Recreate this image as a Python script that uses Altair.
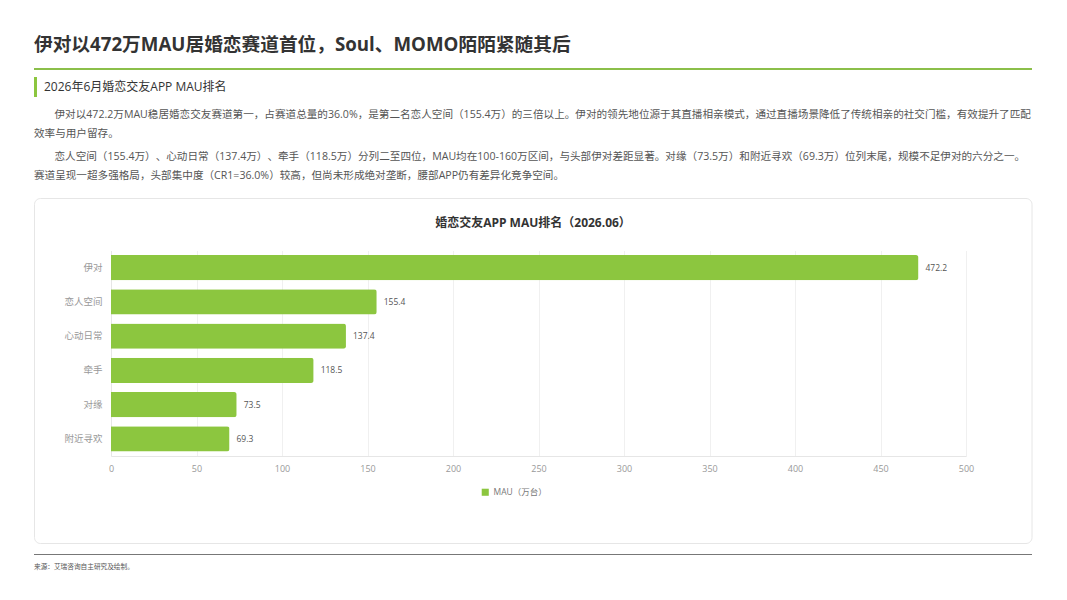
import altair as alt
import pandas as pd

apps = ["伊对", "恋人空间", "心动日常", "牵手", "对缘", "附近寻欢"]
mau = [472.2, 155.4, 137.4, 118.5, 73.5, 69.3]
series_name = "MAU（万台）"
x_ticks = [0, 50, 100, 150, 200, 250, 300, 350, 400, 450, 500]

headline = "伊对以472万MAU居婚恋赛道首位，Soul、MOMO陌陌紧随其后"
subhead = "2026年6月婚恋交友APP MAU排名"
para_lines = [
    "伊对以472.2万MAU稳居婚恋交友赛道第一，占赛道总量的36.0%，是第二名恋人空间（155.4万）的三倍以上。伊对的领先地位源于其直播相亲模式，通过直播场景降低了传统相亲的社交门槛，有效提升了匹配",
    "效率与用户留存。",
    "恋人空间（155.4万）\u200b、心动日常（137.4万）\u200b、牵手（118.5万）分列二至四位，MAU均在100-160万区间，与头部伊对差距显著。对缘（73.5万）和附近寻欢（69.3万）位列末尾，规模不足伊对的六分之一。",
    "赛道呈现一超多强格局，头部集中度（CR1=36.0%）较高，但尚未形成绝对垄断，腰部APP仍有差异化竞争空间。",
]
chart_title = "婚恋交友APP MAU排名（2026.06）"
source = "来源：艾瑞咨询自主研究及绘制。"

FONT = "Open Sans, Noto Sans CJK SC, sans-serif"
GREEN = "#8cc63f"
PL, PT, W, H = 111, 250.5, 855, 205.5   # plot box in page coordinates


def px(v):
    return v - PL


def py(v):
    return v - PT


def label(text, x, y, size, color, weight="normal", align="left"):
    return alt.Chart(pd.DataFrame({"t": [text]})).mark_text(
        font=FONT, fontSize=size, color=color, fontWeight=weight,
        align=align, baseline="middle",
    ).encode(text="t:N", x=alt.value(px(x)), y=alt.value(py(y)))


def box(x0, x1, y0, y1, fill, stroke=None, radius=0, fill_opacity=1):
    kw = dict(fill=fill, fillOpacity=fill_opacity, cornerRadius=radius)
    if stroke:
        kw.update(stroke=stroke, strokeWidth=1)
    return alt.Chart(pd.DataFrame({"a": [0]})).mark_rect(**kw).encode(
        x=alt.value(px(x0)), x2=alt.value(px(x1)),
        y=alt.value(py(y0)), y2=alt.value(py(y1)),
    )


df = pd.DataFrame({"app": apps, "mau": mau, "series": [series_name] * len(apps)})

x_scale = alt.Scale(domain=[0, 500], nice=False)
y_scale = alt.Scale(domain=apps, paddingInner=0.27, paddingOuter=0.135)

x_axis = alt.Axis(
    values=x_ticks, title=None, grid=True, gridColor="#f0f0f0", gridWidth=1,
    domainColor="#e6e6e6", ticks=False, labelFont=FONT, labelFontSize=9,
    labelColor="#999999", labelPadding=8, labelFlush=False,
)
y_axis = alt.Axis(
    title=None, grid=False, domainColor="#e6e6e6", ticks=False, labelFont=FONT,
    labelFontSize=9.5, labelColor="#999999", labelPadding=9,
)

bars = alt.Chart(df).mark_bar(
    cornerRadiusTopRight=2.5, cornerRadiusBottomRight=2.5,
).encode(
    x=alt.X("mau:Q", scale=x_scale, axis=x_axis),
    y=alt.Y("app:N", sort=apps, scale=y_scale, axis=y_axis),
    color=alt.Color("series:N", scale=alt.Scale(range=[GREEN]), legend=alt.Legend(
        title=None, orient="none", legendX=px(481), legendY=py(488), symbolType="square",
        symbolSize=50, symbolStrokeWidth=0, labelFont=FONT, labelFontSize=8.5,
        labelColor="#777777", labelOffset=4,
    )),
)

values = alt.Chart(df).mark_text(
    font=FONT, fontSize=8.5, color="#555555", align="left", baseline="middle", dx=7,
).encode(
    x=alt.X("mau:Q", scale=x_scale, axis=x_axis),
    y=alt.Y("app:N", sort=apps, scale=y_scale, axis=y_axis),
    text=alt.Text("mau:Q", format=".1f"),
)

layers = [
    box(34.5, 1032, 198.5, 543.5, "#ffffff", "#e6e6e6", 6, 0),
    alt.layer(bars, values),
    label(headline, 34, 45, 18.7, "#333333", "bold"),
    box(34, 1032, 68, 70, "#8bbf4a"),
    box(34, 37, 77, 97, "#8cc63f"),
    label(subhead, 44, 87, 12, "#333333"),
    label(para_lines[0], 54.5, 115, 10.6, "#555555"),
    label(para_lines[1], 34, 134, 10.6, "#555555"),
    label(para_lines[2], 54.5, 157, 10.6, "#555555"),
    label(para_lines[3], 34, 176, 10.6, "#555555"),
    label(chart_title, 533, 223, 12, "#333333", "bold", "center"),
    box(34, 1032, 554, 555, "#777777"),
    label(source, 34, 566.5, 6.67, "#555555"),
]

chart = alt.layer(*layers).properties(
    width=W, height=H,
    padding={"left": PL - 8, "top": PT - 8, "right": 85, "bottom": 130},
    autosize=alt.AutoSizeParams(type="none"),
    background="#ffffff",
).configure_view(stroke=None)

chart.save("out.html", embed_options={"renderer": "svg", "actions": False})
